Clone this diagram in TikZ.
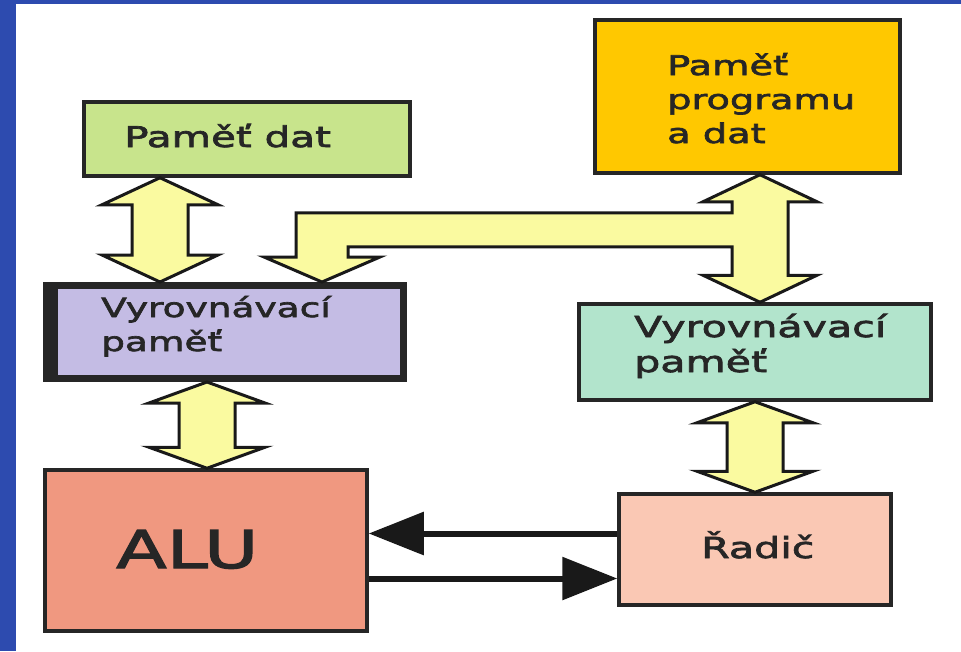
\documentclass[tikz,border=0pt]{standalone}
\usepackage{fontspec}
\newfontfamily\boxfont{DejaVu Sans}[FakeStretch=1.42,FakeBold=2.5]
\usetikzlibrary{calc,arrows.meta}
\definecolor{slideblue}{RGB}{45,75,175}
\definecolor{datgreen}{RGB}{200,228,140}
\definecolor{proggold}{RGB}{255,200,0}
\definecolor{vplilac}{RGB}{196,188,228}
\definecolor{vpmint}{RGB}{178,228,204}
\definecolor{alusalmon}{RGB}{240,152,128}
\definecolor{radicpeach}{RGB}{250,200,180}
\definecolor{busyellow}{RGB}{250,250,160}
\tikzset{
  box/.style={draw=black!85, line width=3.5pt, inner sep=0pt},
  bus/.style={draw=black!90, line width=3pt, fill=busyellow},
  sig/.style={draw=black!90, line width=6pt, -{Triangle[length=55pt,width=42pt]}},
  boxtext/.style={anchor=base west, inner sep=0pt, text=black!85, align=left}
}
\def\dblarrow(#1)(#2)[#3]{\draw[bus] (#1) -- ($(#1)+(58,#3)$) -- ($(#1)+(28,#3)$) -- ($(#2)+(28,-#3)$) -- ($(#2)+(58,-#3)$) -- (#2) -- ($(#2)+(-58,-#3)$) -- ($(#2)+(-28,-#3)$) -- ($(#1)+(-28,#3)$) -- ($(#1)+(-58,#3)$) -- cycle;}

\begin{document}
\begin{tikzpicture}[x=1pt, y=-1pt]
			%%%%% FRAME %%%%%
			\useasboundingbox (0,0) rectangle (961,651);
			\fill[white] (0,0) rectangle (961,651);
			\fill[slideblue] (0,0) rectangle (16,651);
			\fill[slideblue] (0,0) rectangle (961,4);
			
			%%%%% BOXES %%%%%
			\node[box, fill=datgreen, minimum width=326pt, minimum height=74pt] (dat) at (247,139) {};
			\node[box, fill=proggold, minimum width=305pt, minimum height=153pt] (prog) at (747.5,96.5) {};
			\node[box, fill=vplilac, line width=7pt, minimum width=357pt, minimum height=93pt] (vpl) at (225,332) {};
			\fill[black!85] (vpl.north west) rectangle ($(vpl.south west)+(15,0)$);
			\node[box, fill=vpmint, minimum width=352pt, minimum height=96pt] (vpr) at (755,352) {};
			\node[box, fill=alusalmon, minimum width=322pt, minimum height=161pt] (alu) at (206,550.5) {};
			\node[box, fill=radicpeach, minimum width=272pt, minimum height=111pt] (radic) at (755,549.5) {};
			
			%%%%% TEXTS %%%%%
			\node[boxtext, font={\boxfont\fontsize{28.5}{34}\selectfont}] (datt) at (124,147) {Paměť dat};
			\node[boxtext, font={\boxfont\fontsize{27}{34}\selectfont}] (progt) at (667,143) {Paměť\\programu\\a dat};
			\node[boxtext, font={\boxfont\fontsize{26.4}{34}\selectfont}] (vplt) at (101,351) {Vyrovnávací\\paměť};
			\node[boxtext, font={\boxfont\fontsize{29}{35}\selectfont}] (vprt) at (634,372) {Vyrovnávací\\paměť};
			\node[boxtext, font={\boxfont\fontsize{52}{60}\selectfont}] (alut) at (116,568) {ALU};
			\node[boxtext, font={\boxfont\fontsize{29}{35}\selectfont}] (radict) at (701,558) {Řadič};
			
			%%%%% BUSES %%%%%
			\coordinate (xa) at (160,0);
			\coordinate (xb) at (207,0);
			\coordinate (xc) at (760,0);
			\coordinate (xd) at (755,0);
			\coordinate (xe) at (322,0);
			
			\dblarrow(dat.south -| xa)(vpl.north -| xa)[27]
			\dblarrow(vpl.south -| xb)(alu.north -| xb)[21]
			\dblarrow(vpr.south -| xd)(radic.north -| xd)[21]
			
			\coordinate (T) at (prog.south -| xc);
			\coordinate (B) at (vpr.north -| xc);
			\coordinate (E) at (vpl.north -| xe);
			\coordinate (bt) at ($(T)+(0,38)$);
			\coordinate (bb) at ($(T)+(0,72)$);
			\draw[bus] (T) -- ($(T)+(57,27)$) -- ($(T)+(28,27)$) -- ($(B)+(28,-27)$) -- ($(B)+(57,-27)$) -- (B)
				-- ($(B)+(-57,-27)$) -- ($(B)+(-28,-27)$) -- ($(bb)+(-28,0)$) -- ($(bb -| E)+(26,0)$) -- ($(E)+(26,-25)$)
				-- ($(E)+(58,-25)$) -- (E) -- ($(E)+(-58,-25)$) -- ($(E)+(-26,-25)$) -- ($(bt -| E)+(-26,0)$)
				-- ($(bt)+(-28,0)$) -- ($(T)+(-28,27)$) -- ($(T)+(-57,27)$) -- cycle;
			
			%%%%% SIGNALS %%%%%
			\coordinate (r1) at ($(radic.west)+(0,-16)$);
			\coordinate (a1) at ($(alu.east)+(0,28)$);
			\draw[sig] (r1) -- (r1 -| alu.east);
			\draw[sig] (a1) -- (a1 -| radic.west);
			
			%%%%% END %%%%%
\end{tikzpicture}
\end{document}
